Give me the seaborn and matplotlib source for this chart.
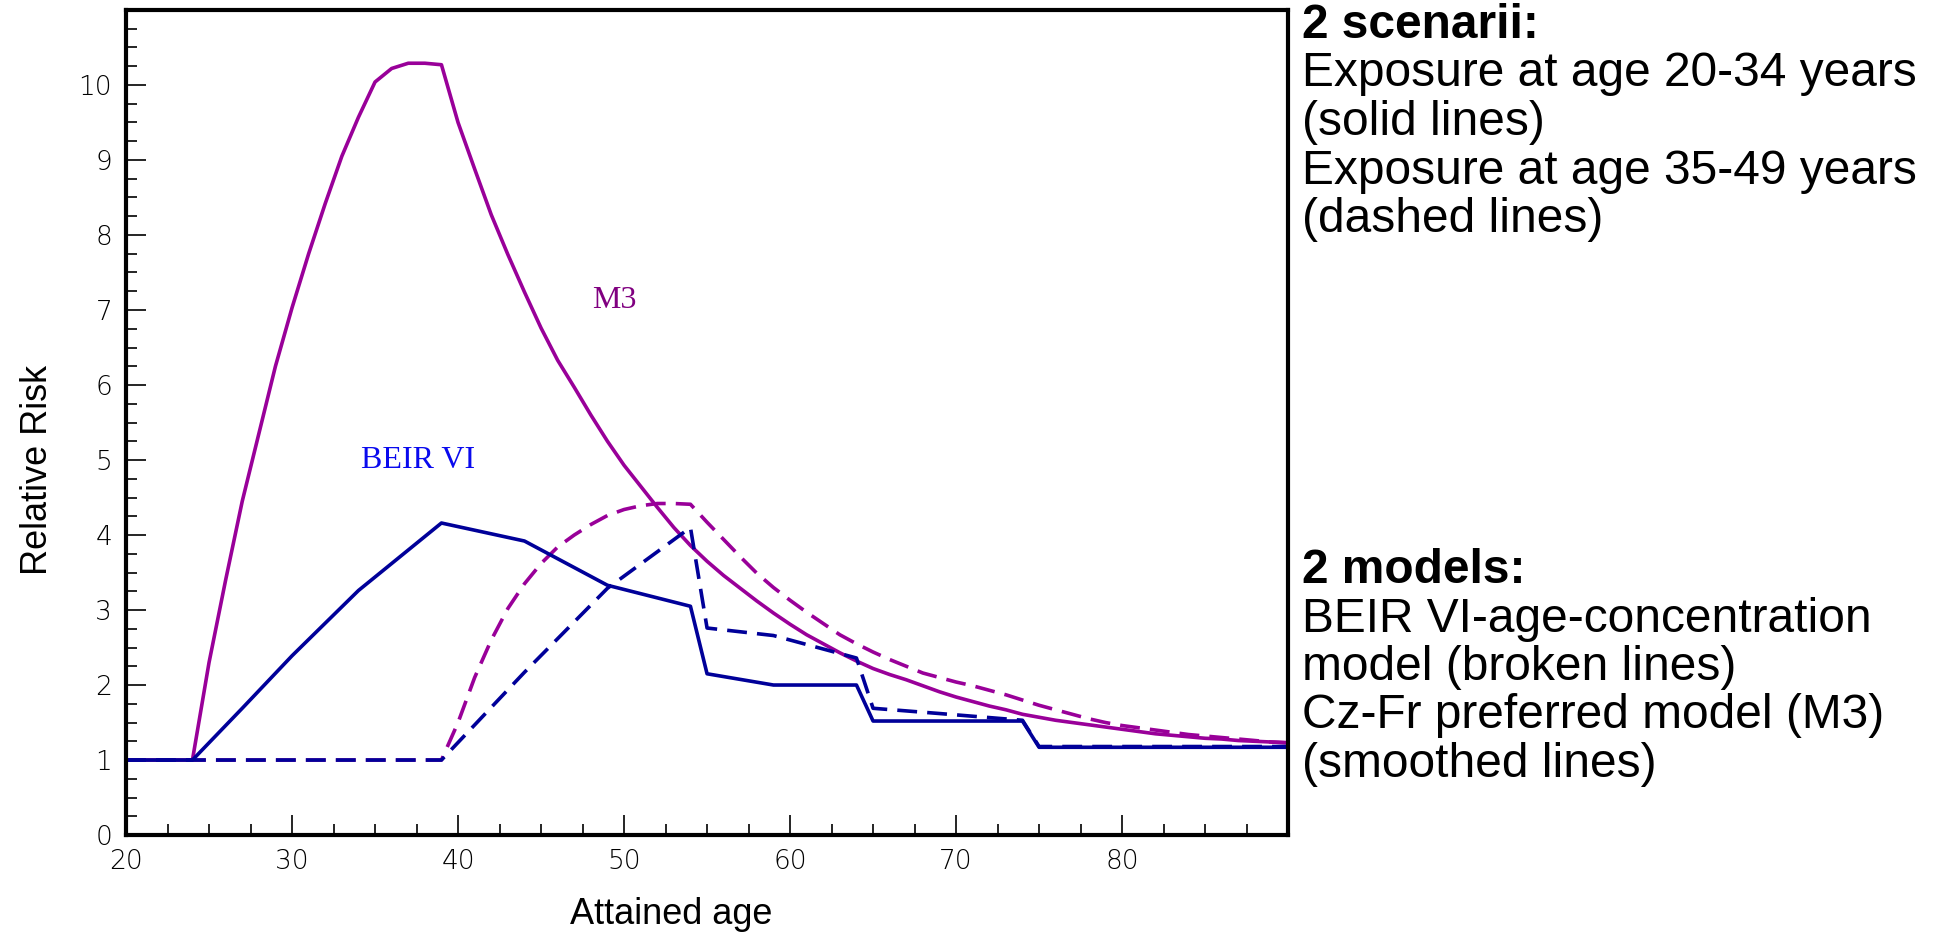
#!/usr/bin/env python3

import matplotlib.pyplot as plt
import matplotlib.ticker as ticker
import numpy as np
import pandas as pd
import seaborn as sns

# BEIR VI age-concentration model (broken lines), breakpoints
beir_ages_20_34 = [20, 24, 27, 30, 34, 39, 44, 49, 54, 55, 59, 64, 65, 74, 75, 90]
beir_rr_20_34 = [1.0, 1.0, 1.69, 2.39, 3.26, 4.16, 3.92, 3.33, 3.05, 2.15, 2.0, 2.0,
                 1.52, 1.52, 1.17, 1.17]
beir_ages_35_49 = [20, 39, 44, 49, 54, 55, 59, 64, 65, 69, 74, 75, 90]
beir_rr_35_49 = [1.0, 1.0, 2.17, 3.29, 4.1, 2.76, 2.66, 2.36, 1.69, 1.62, 1.53, 1.18, 1.18]

# Cz-Fr preferred model M3 (smoothed lines), yearly values
m3_ages = list(range(20, 91))
m3_rr_20_34 = [
    1.0, 1.0, 1.0, 1.0, 1.0, 2.3, 3.4, 4.45, 5.35, 6.25,
    7.03, 7.75, 8.42, 9.05, 9.57, 10.04, 10.22, 10.29, 10.29, 10.27,
    9.5, 8.88, 8.27, 7.74, 7.24, 6.76, 6.33, 5.97, 5.6, 5.25,
    4.93, 4.65, 4.37, 4.1, 3.86, 3.65, 3.46, 3.29, 3.12, 2.96,
    2.81, 2.67, 2.55, 2.43, 2.32, 2.22, 2.14, 2.07, 1.99, 1.91,
    1.84, 1.78, 1.72, 1.67, 1.61, 1.57, 1.53, 1.5, 1.47, 1.44,
    1.41, 1.38, 1.35, 1.33, 1.31, 1.29, 1.28, 1.26, 1.25, 1.24,
    1.23,
]
m3_rr_35_49 = [
    1.0, 1.0, 1.0, 1.0, 1.0, 1.0, 1.0, 1.0, 1.0, 1.0,
    1.0, 1.0, 1.0, 1.0, 1.0, 1.0, 1.0, 1.0, 1.0, 1.0,
    1.5, 2.1, 2.6, 3.02, 3.35, 3.62, 3.84, 4.0, 4.14, 4.26,
    4.34, 4.39, 4.42, 4.42, 4.41, 4.17, 3.94, 3.71, 3.49, 3.3,
    3.13, 2.97, 2.82, 2.67, 2.55, 2.44, 2.34, 2.25, 2.16, 2.1,
    2.04, 1.99, 1.93, 1.87, 1.8, 1.73, 1.67, 1.61, 1.55, 1.5,
    1.46, 1.43, 1.4, 1.37, 1.34, 1.32, 1.3, 1.28, 1.26, 1.24,
    1.23,
]

scenario_text = [
    ("2 scenarii:", "bold"),
    ("Exposure at age 20-34 years", "normal"),
    ("(solid lines)", "normal"),
    ("Exposure at age 35-49 years", "normal"),
    ("(dashed lines)", "normal"),
]
model_text = [
    ("2 models:", "bold"),
    ("BEIR VI-age-concentration", "normal"),
    ("model (broken lines)", "normal"),
    ("Cz-Fr preferred model (M3)", "normal"),
    ("(smoothed lines)", "normal"),
]

PURPLE = "#990099"
NAVY = "#000099"


def series(model, scenario, ages, rr):
    return pd.DataFrame({"age": ages, "rr": rr, "model": model, "scenario": scenario})


df = pd.concat(
    [
        series("M3", "20-34", m3_ages, m3_rr_20_34),
        series("M3", "35-49", m3_ages, m3_rr_35_49),
        series("BEIR VI", "20-34", beir_ages_20_34, beir_rr_20_34),
        series("BEIR VI", "35-49", beir_ages_35_49, beir_rr_35_49),
    ],
    ignore_index=True,
)

sns.set_style("ticks")
plt.rcParams["font.family"] = ["Liberation Sans", "DejaVu Sans"]
plt.rcParams["text.color"] = "black"
plt.rcParams["axes.labelcolor"] = "black"
plt.rcParams["xtick.color"] = "black"
plt.rcParams["ytick.color"] = "black"

fig = plt.figure(figsize=(19.39, 9.33), dpi=100)
ax = fig.add_axes([0.065, 0.105, 0.5993, 0.8843])

sns.lineplot(
    data=df,
    x="age",
    y="rr",
    hue="model",
    hue_order=["M3", "BEIR VI"],
    style="scenario",
    style_order=["20-34", "35-49"],
    palette={"M3": PURPLE, "BEIR VI": NAVY},
    dashes={"20-34": "", "35-49": (5.5, 2.8)},
    estimator=None,
    linewidth=2.6,
    legend=False,
    ax=ax,
)

ax.set_xlim(20, 90)
ax.set_ylim(0, 11)
ax.xaxis.set_major_locator(ticker.FixedLocator(np.arange(20, 81, 10)))
ax.xaxis.set_minor_locator(ticker.FixedLocator(np.arange(22.5, 90, 2.5)))
ax.yaxis.set_major_locator(ticker.FixedLocator(np.arange(0, 11, 1)))
ax.yaxis.set_minor_locator(ticker.FixedLocator(np.arange(0.25, 11, 0.25)))
ax.tick_params(which="major", direction="in", length=14.5, width=1.2, pad=10,
               labelsize=19, colors="black")
ax.tick_params(which="minor", direction="in", length=8, width=1.2, colors="black")
for lab in ax.get_xticklabels() + ax.get_yticklabels():
    lab.set_fontfamily(["DejaVu Sans"])
    lab.set_fontweight(200)
for sp in ax.spines.values():
    sp.set_visible(True)
    sp.set_linewidth(3)
    sp.set_color("black")
ax.set_xlabel("")
ax.set_ylabel("")

ax.text(37.6, 5.0, "BEIR VI", color="#0a0aee", fontsize=23,
        family=["Liberation Serif"], ha="center", va="center")
ax.text(49.4, 7.13, "M3", color="#800080", fontsize=23,
        family=["Liberation Serif"], ha="center", va="center")

fig.text(38 / 1939, 1 - 470 / 933, "Relative Risk", rotation=90,
         ha="center", va="center", fontsize=26, color="black")
fig.text(671 / 1939, 1 - 924 / 933, "Attained age", ha="center",
         va="baseline", fontsize=26, color="black")

x_txt = 1302 / 1939
for i, (line, weight) in enumerate(scenario_text):
    fig.text(x_txt, 1 - (38 + 48.5 * i) / 933, line, fontsize=34.5,
             fontweight=weight, va="baseline", ha="left", color="black")
for i, (line, weight) in enumerate(model_text):
    fig.text(x_txt, 1 - (583 + 48.5 * i) / 933, line, fontsize=34.5,
             fontweight=weight, va="baseline", ha="left", color="black")

fig.savefig("out.png", dpi=100, facecolor="white")
